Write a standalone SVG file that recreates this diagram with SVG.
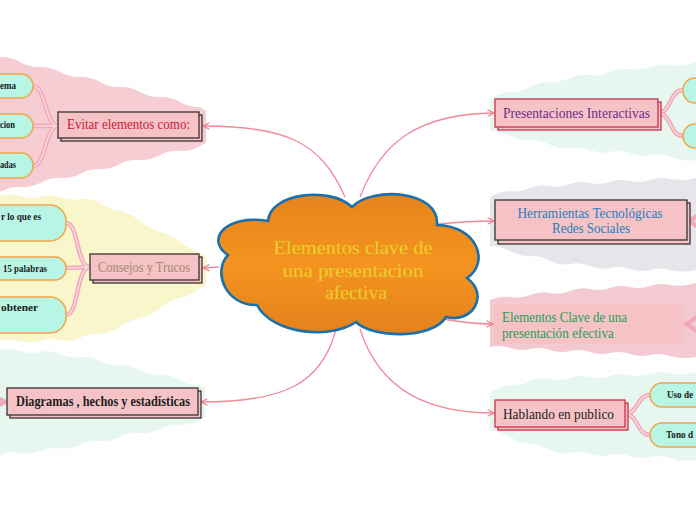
<svg xmlns="http://www.w3.org/2000/svg" width="696" height="520" viewBox="0 0 696 520">
<defs>
  <pattern id="grid" width="10" height="10" patternUnits="userSpaceOnUse">
    <path d="M10,0 L0,0 L0,10" fill="none" stroke="#f3f3f3" stroke-width="0.6"/>
  </pattern>
  <linearGradient id="cloudGrad" x1="0" y1="0" x2="0" y2="1">
    <stop offset="0" stop-color="#e5841c"/>
    <stop offset="0.5" stop-color="#f5931f"/>
    <stop offset="1" stop-color="#e3821c"/>
  </linearGradient>
  <marker id="arrow" viewBox="0 0 10 10" refX="9" refY="5" markerWidth="8" markerHeight="8" markerUnits="userSpaceOnUse" orient="auto">
    <path d="M1,1 L9,5 L1,9" fill="none" stroke="#f07f92" stroke-width="1.6"/>
  </marker>
</defs>
<style>
  .conn { fill: none; stroke: #f08a9a; stroke-width: 1.3; marker-end: url(#arrow); }
  .rib { fill: none; stroke: #f2a9b8; stroke-width: 4.5; stroke-linecap: round; }
  .ribin { fill: none; stroke: #fbdbe2; stroke-width: 1.4; stroke-linecap: round; }
  .box { fill: #f5c3c6; stroke: #3a3232; stroke-width: 1.3; }
  .boxr { fill: #f5c3c6; stroke: #c8334a; stroke-width: 1.3; }
  .pill { fill: #b8f5e4; stroke: #f0a548; stroke-width: 1.5; }
  .t { font-family: "Liberation Serif", "DejaVu Serif", serif; font-size: 14px; }
  .pt { font-family: "Liberation Serif", "DejaVu Serif", serif; font-size: 10.5px; font-weight: bold; fill: #1a1a1a; }
</style>
<rect width="696" height="520" fill="#ffffff"/>
<rect width="696" height="520" fill="url(#grid)"/>

<g id="backgrounds">
  <path fill="#f5cdd3" d="M0,57 Q10,56.5 20,62 Q30,67.5 40,67 Q50,66.5 60,72 Q70,77.5 80,77 Q90,76.5 100,82 Q110,87.5 120,87 Q130,86.5 140,92 Q150,97.5 160,97 Q170,96.5 180,102 Q190,107.5 200,107 L206,111 L206,143 L200,146 Q190,151.5 180,151 Q170,150 160,155 Q150,160.5 140,160 Q130,159 120,164 Q110,169.5 100,169 Q90,168.5 80,174 Q70,179 60,178 Q50,177.5 40,183 Q30,188 20,187 Q10,186.5 0,192 Z"/>
  <path fill="#faf6cc" d="M0,196 Q10,193 20,196 Q30,199.5 40,197 Q50,194 60,197 Q70,201 80,199 Q90,198 100,203 Q110,210 120,211 Q130,213 140,221 Q150,229.5 160,232 Q170,234 180,242 Q190,250 200,252 L206,256 L206,286 L200,288 Q190,296 180,298 Q170,300 160,308 Q150,316 140,318 Q130,319.5 120,327 Q110,333.5 100,334 Q90,333 80,338 Q70,342 60,340 Q50,337.5 40,341 Q30,344 20,341 Q10,338 0,341 Z"/>
  <path fill="#e7f7f0" d="M0,350 Q10,347.5 20,351 Q30,354.5 40,352 Q50,350 60,354 Q70,358.5 80,357 Q90,356 100,361 Q110,366 120,365 Q130,364.5 140,370 Q150,375.5 160,375 Q170,374.5 180,380 Q190,385.5 200,385 L205,388 L205,418 L200,420 Q190,425.5 180,425 Q170,424 160,429 Q150,434 140,433 Q130,432 120,437 Q110,442 100,441 Q90,440 80,445 Q70,449.5 60,448 Q50,446.5 40,451 Q30,455 20,453 Q10,451 0,455 Z"/>
  <path fill="#e7f7f0" d="M490,99 Q500,92.5 510,92 Q520,92.5 530,87 Q540,81.5 550,82 Q560,83 570,78 Q580,73.5 590,75 Q600,76.5 610,72 Q620,67.5 630,69 Q640,71 650,67 Q660,63 670,65 Q683,66.5 696,62 L696,160 Q683,161.5 670,157 Q660,153 650,155 Q640,157 630,153 Q620,149.5 610,152 Q600,154 590,150 Q580,146 570,148 Q560,149.5 550,145 Q540,139.5 530,140 Q520,141 510,136 Q500,130.5 490,131 Z"/>
  <path fill="#e6e6ea" d="M490,197 Q500,191 510,191 Q520,192.5 530,188 Q540,184 550,186 Q560,188 570,184 Q580,180.5 590,183 Q600,185.5 610,182 Q620,178.5 630,181 Q640,183.5 650,180 Q660,176.5 670,179 Q683,181.5 696,178 L696,270 Q683,273 670,270 Q660,267 650,270 Q640,272.5 630,269 Q620,265.5 610,268 Q600,270 590,266 Q580,262 570,264 Q560,265.5 550,261 Q540,255.5 530,256 Q520,256.5 510,251 Q500,245.5 490,246 Z"/>
  <path fill="#f3cad1" d="M490,300 Q500,295.5 510,297 Q520,299 530,295 Q540,291 550,293 Q560,295 570,291 Q580,287 590,289 Q600,291.5 610,288 Q620,284.5 630,287 Q640,289.5 650,286 Q660,282.5 670,285 Q683,287 696,283 L696,357 Q683,359.5 670,356 Q660,352.5 650,355 Q640,357.5 630,354 Q620,350.5 610,353 Q600,355.5 590,352 Q580,348.5 570,351 Q560,353.5 550,350 Q540,346.5 530,349 Q520,351.5 510,348 Q500,344.5 490,347 Z"/>
  <path fill="#e7f7f0" d="M490,393 Q500,386 510,385 Q520,386 530,381 Q540,377 550,379 Q560,381.5 570,378 Q580,374.5 590,377 Q600,379.5 610,376 Q620,372.5 630,375 Q640,377.5 650,374 Q660,370.5 670,373 Q683,375.5 696,372 L696,460 Q683,462 670,458 Q660,454.5 650,457 Q640,459.5 630,456 Q620,452.5 610,455 Q600,457.5 590,454 Q580,450.5 570,453 Q560,454.5 550,450 Q540,444 530,444 Q520,443.5 510,437 Q500,430.5 490,430 Z"/>
</g>

<g id="connectors">
  <path class="conn" d="M345,197 C320,140 285,127 203,126"/>
  <path class="conn" d="M360,197 C382,140 420,114 494,113"/>
  <path class="conn" d="M438,224 C460,222 472,221 494,221"/>
  <path class="conn" d="M219,267 L203,268"/>
  <path class="conn" d="M438,318 C458,322 472,324 493,324"/>
  <path class="conn" d="M336,329 C322,385 282,402 201,402"/>
  <path class="conn" d="M360,329 C380,392 430,413 494,413"/>
  <g id="ribbons">
    <path class="rib" d="M58,126 C45,126 46,86 33,86 M58,126 L33,126 M58,126 C45,126 46,166 33,166"/>
    <path class="ribin" d="M58,126 C45,126 46,86 33,86 M58,126 L33,126 M58,126 C45,126 46,166 33,166"/>
    <path class="rib" d="M90,267 C76,267 79,223 66,223 M90,267 L66,268 M90,267 C76,267 79,315 66,315"/>
    <path class="ribin" d="M90,267 C76,267 79,223 66,223 M90,267 L66,268 M90,267 C76,267 79,315 66,315"/>
    <path class="rib" d="M658,113 C671,113 670,90 683,90 M658,113 C671,113 670,136 683,136"/>
    <path class="ribin" d="M658,113 C671,113 670,90 683,90 M658,113 C671,113 670,136 683,136"/>
    <path class="rib" d="M625,414 C638,414 637,395 650,395 M625,414 C638,414 637,435 650,435"/>
    <path class="ribin" d="M625,414 C638,414 637,395 650,395 M625,414 C638,414 637,435 650,435"/>
    <path class="rib" d="M688,221 C692,221 693,218 697,216 M688,221 C692,221 693,224 697,226"/>
    <path class="rib" d="M685,324 C690,324 691,320 697,317 M685,324 C690,324 691,328 697,331"/>
    <path class="rib" d="M7,402 C3,402 2,400 -1,399 M7,402 C3,402 2,404 -1,405"/>
  </g>
</g>

<g id="center">
  <path d="M228,255 C205,240 225,214 268,221 C270,193 330,186 352,207 C372,186 440,190 437,225 C478,226 490,263 467,278 C490,295 472,324 446,317 C432,340 372,338 356,322 C330,340 272,334 257,305 C226,306 212,272 228,255 Z" fill="url(#cloudGrad)" stroke="#1b6fab" stroke-width="2.6"/>
  <g font-family="Liberation Serif, DejaVu Serif, serif" font-size="19" fill="#f6d530" stroke="#e6b020" stroke-width="0.4" text-anchor="middle">
    <text x="353" y="254" textLength="159" lengthAdjust="spacingAndGlyphs">Elementos clave de</text>
    <text x="353" y="277" textLength="141" lengthAdjust="spacingAndGlyphs">una presentacion</text>
    <text x="356" y="299" textLength="62" lengthAdjust="spacingAndGlyphs">afectiva</text>
  </g>
</g>

<g id="node-evitar">
  <rect class="box" x="61" y="115" width="141" height="26"/>
  <rect class="box" x="58" y="112" width="141" height="26"/>
  <text class="t" x="67" y="129" fill="#c8203a" textLength="123" lengthAdjust="spacingAndGlyphs">Evitar elementos como:</text>
</g>
<g id="evitar-children">
  <rect class="pill" x="-40" y="74" width="73" height="24" rx="12"/>
  <text class="pt" x="0" y="89" textLength="16" lengthAdjust="spacingAndGlyphs">ema</text>
  <rect class="pill" x="-40" y="114" width="73" height="24" rx="12"/>
  <text class="pt" x="0" y="128" textLength="15" lengthAdjust="spacingAndGlyphs">cion</text>
  <rect class="pill" x="-40" y="153" width="73" height="25" rx="12"/>
  <text class="pt" x="0" y="168" textLength="16" lengthAdjust="spacingAndGlyphs">adas</text>
</g>

<g id="node-consejos">
  <rect class="box" x="93" y="257" width="109" height="26"/>
  <rect class="box" x="90" y="254" width="109" height="26"/>
  <text class="t" x="98" y="272" fill="#a5896a" textLength="92" lengthAdjust="spacingAndGlyphs">Consejos y Trucos</text>
</g>
<g id="consejos-children">
  <rect class="pill" x="-60" y="205" width="126" height="36" rx="16"/>
  <text class="pt" x="1" y="220" textLength="40" lengthAdjust="spacingAndGlyphs">r lo que es</text>
  <rect class="pill" x="-60" y="257" width="126" height="23" rx="11"/>
  <text class="pt" x="3" y="272" textLength="44" lengthAdjust="spacingAndGlyphs">15 palabras</text>
  <rect class="pill" x="-60" y="297" width="126" height="36" rx="16"/>
  <text class="pt" x="1" y="311" textLength="37" lengthAdjust="spacingAndGlyphs">obtener</text>
</g>

<g id="node-diagramas">
  <rect class="box" x="10" y="391" width="191" height="27"/>
  <rect class="box" x="7" y="388" width="191" height="27"/>
  <text class="t" x="16" y="406" fill="#1e1e1e" font-weight="bold" textLength="174" lengthAdjust="spacingAndGlyphs">Diagramas , hechos y estadísticas</text>
</g>

<g id="node-presentaciones">
  <rect class="boxr" x="498" y="102" width="163" height="28"/>
  <rect class="boxr" x="495" y="99" width="163" height="28"/>
  <text class="t" x="503" y="118" fill="#6e2a8e" textLength="147" lengthAdjust="spacingAndGlyphs">Presentaciones Interactivas</text>
</g>
<g id="presentaciones-children">
  <rect class="pill" x="683" y="78" width="60" height="25" rx="12"/>
  <rect class="pill" x="683" y="124" width="60" height="24" rx="12"/>
</g>

<g id="node-herramientas">
  <rect class="box" x="498" y="203" width="192" height="41"/>
  <rect class="box" x="495" y="200" width="192" height="40"/>
  <text class="t" x="590" y="218" fill="#1f7fc0" text-anchor="middle" textLength="145" lengthAdjust="spacingAndGlyphs">Herramientas Tecnológicas</text>
  <text class="t" x="591" y="233" fill="#1f7fc0" text-anchor="middle" textLength="78" lengthAdjust="spacingAndGlyphs">Redes Sociales</text>
</g>

<g id="node-elementos">
  <rect x="494" y="304" width="190" height="40" fill="#f5c3c6"/>
  <text class="t" x="502" y="322" fill="#1d9e55" textLength="125" lengthAdjust="spacingAndGlyphs">Elementos Clave de una</text>
  <text class="t" x="502" y="338" fill="#1d9e55" textLength="112" lengthAdjust="spacingAndGlyphs">presentación efectiva</text>
</g>

<g id="node-hablando">
  <rect class="boxr" x="498" y="403" width="130" height="27"/>
  <rect class="boxr" x="495" y="400" width="130" height="27"/>
  <text class="t" x="503" y="419" fill="#1e1e1e" font-size="16" textLength="111" lengthAdjust="spacingAndGlyphs">Hablando en publico</text>
</g>
<g id="hablando-children">
  <rect class="pill" x="650" y="383" width="80" height="24" rx="12"/>
  <text class="pt" x="667" y="398" textLength="26" lengthAdjust="spacingAndGlyphs">Uso de</text>
  <rect class="pill" x="650" y="423" width="80" height="24" rx="12"/>
  <text class="pt" x="666" y="438" textLength="27" lengthAdjust="spacingAndGlyphs">Tono d</text>
</g>
</svg>
